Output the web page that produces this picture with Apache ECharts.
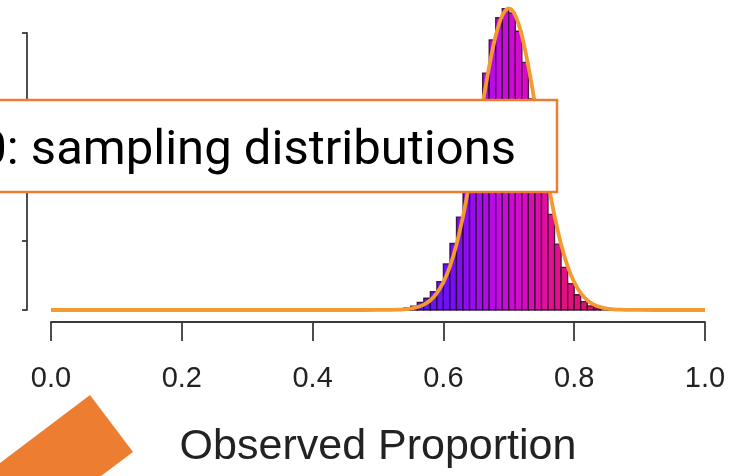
<!DOCTYPE html>
<html>
<head>
<meta charset="utf-8">
<script src="https://cdn.jsdelivr.net/npm/echarts@6/dist/echarts.min.js"></script>
<style>
html,body{margin:0;padding:0;background:#fff;}
#chart{width:744px;height:476px;}
</style>
</head>
<body>
<div id="chart"></div>
<script>
// Histogram bins (left / right edges) and density heights
var binLeft  = [0.52,0.53,0.54,0.55,0.56,0.57,0.58,0.59,0.60,0.61,0.62,0.63,0.64,0.65,0.66,0.67,0.68,0.69,0.70,0.71,0.72,0.73,0.74,0.75,0.76,0.77,0.78,0.79,0.80,0.81,0.82,0.83,0.84,0.85];
var binRight = [0.53,0.54,0.55,0.56,0.57,0.58,0.59,0.60,0.61,0.62,0.63,0.64,0.65,0.66,0.67,0.68,0.69,0.70,0.71,0.72,0.73,0.74,0.75,0.76,0.77,0.78,0.79,0.80,0.81,0.82,0.83,0.84,0.85,0.86];
var density  = [0.01,0.03,0.06,0.11,0.22,0.34,0.53,0.82,1.33,1.92,2.68,3.62,4.66,5.80,6.84,7.80,8.44,8.70,8.58,8.05,7.15,6.10,4.93,3.77,2.76,1.90,1.23,0.76,0.44,0.24,0.12,0.06,0.03,0.01];

// Fitted normal curve points (observed proportion, density)
var curveX = [0.00,0.40,0.45,0.50,0.51,0.52,0.53,0.54,0.55,0.56,0.57,0.58,0.59,0.60,0.61,0.62,0.63,0.64,0.65,0.66,0.67,0.68,0.69,0.70,0.71,0.72,0.73,0.74,0.75,0.76,0.77,0.78,0.79,0.80,0.81,0.82,0.83,0.84,0.85,0.86,0.87,0.88,0.89,0.90,0.95,1.00];
var curveY = [0,0,0,0.001,0.002,0.004,0.009,0.020,0.041,0.082,0.155,0.281,0.487,0.804,1.263,1.894,2.709,3.693,4.80,5.95,7.03,7.92,8.505,8.71,8.505,7.92,7.03,5.95,4.80,3.693,2.709,1.894,1.263,0.804,0.487,0.281,0.155,0.082,0.041,0.020,0.009,0.004,0.002,0.001,0,0];

// Axis ticks
var xTicks = [0.0,0.2,0.4,0.6,0.8,1.0];
var yTicks = [0,2,4,6,8];

var xTitle = 'Observed Proportion';
var boxText = '0: sampling distributions';

var colorStops = [
  [0.55,[72,28,255]],
  [0.62,[122,14,245]],
  [0.68,[190,12,228]],
  [0.72,[214,12,200]],
  [0.77,[228,16,140]],
  [0.86,[214,20,78]]
];
function barColor(v){
  if (v <= colorStops[0][0]) return 'rgb(' + colorStops[0][1].join(',') + ')';
  for (var i = 1; i < colorStops.length; i++) {
    if (v <= colorStops[i][0]) {
      var a = colorStops[i-1], b = colorStops[i];
      var t = (v - a[0]) / (b[0] - a[0]);
      var c = a[1].map(function(x, j){ return Math.round(x + (b[1][j] - x) * t); });
      return 'rgb(' + c.join(',') + ')';
    }
  }
  return 'rgb(' + colorStops[colorStops.length-1][1].join(',') + ')';
}

var histData = binLeft.map(function(l, i){ return [l, binRight[i], density[i]]; });
var curveData = curveX.map(function(x, i){ return [x, curveY[i]]; });

var chart = echarts.init(document.getElementById('chart'), null, {renderer:'canvas'});
var axisColor = '#3a3a3a';
chart.setOption({
  animation: false,
  backgroundColor: '#fff',
  grid: {left: 51, right: 39, top: 33, bottom: 166, containLabel: false},
  xAxis: {
    type: 'value', min: xTicks[0], max: xTicks[xTicks.length-1], interval: 0.2,
    offset: 12,
    axisLine: {show: true, onZero: false, lineStyle: {color: axisColor, width: 1.8}},
    axisTick: {show: true, length: 19, lineStyle: {color: axisColor, width: 1.8}},
    splitLine: {show: false},
    axisLabel: {
      fontSize: 29, color: '#222', margin: 42, fontFamily: 'Liberation Sans, Arial, sans-serif',
      formatter: function(v){ return v.toFixed(1); }
    },
    name: xTitle, nameLocation: 'middle', nameGap: 104,
    nameTextStyle: {fontSize: 43, color: '#222', fontFamily: 'Liberation Sans, Arial, sans-serif'}
  },
  yAxis: {
    type: 'value', min: yTicks[0], max: yTicks[yTicks.length-1], interval: 2,
    position: 'left', offset: 24,
    axisLine: {show: true, onZero: false, lineStyle: {color: axisColor, width: 1.8}},
    axisTick: {show: true, length: 5, lineStyle: {color: axisColor, width: 1.8}},
    axisLabel: {show: false},
    splitLine: {show: false}
  },
  series: [
    {
      type: 'custom',
      clip: false,
      z: 2,
      data: histData,
      renderItem: function(params, api){
        var x0 = api.value(0), x1 = api.value(1), h = api.value(2);
        var p0 = api.coord([x0, h]);
        var p1 = api.coord([x1, 0]);
        return {
          type: 'rect',
          shape: {x: p0[0], y: p0[1], width: p1[0] - p0[0], height: p1[1] - p0[1]},
          style: {fill: barColor((x0 + x1) / 2), stroke: 'rgba(40,0,40,0.85)', lineWidth: 1.3}
        };
      }
    },
    {
      type: 'line',
      clip: false,
      z: 3,
      data: curveData,
      showSymbol: false,
      smooth: 0.35,
      lineStyle: {color: '#F59A2E', width: 3.8}
    }
  ],
  graphic: [
    {
      type: 'rect', z: 100,
      shape: {x: -3, y: 100, width: 560, height: 92},
      style: {fill: '#fff', stroke: '#ED7D31', lineWidth: 2.5}
    },
    {
      type: 'text', z: 101,
      x: 516, y: 152,
      style: {text: boxText, fill: '#000', fontSize: 49, fontFamily: 'Roboto, "Open Sans", sans-serif', align: 'right', verticalAlign: 'middle'}
    },
    {
      type: 'polygon', z: 100,
      shape: {points: [[90,395],[133,452],[101,476],[0,476],[0,463]]},
      style: {fill: '#ED7D31'}
    }
  ]
});
</script>
</body>
</html>
